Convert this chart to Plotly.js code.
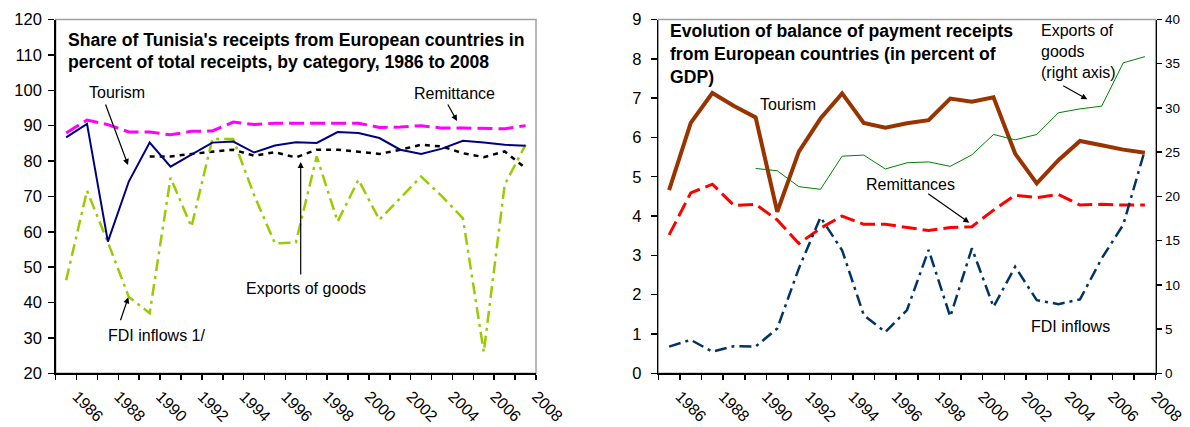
<!DOCTYPE html>
<html>
<head>
<meta charset="utf-8">
<script src="https://cdn.plot.ly/plotly-3.0.1.min.js"></script>
<style>
html,body{margin:0;padding:0;background:#fff;}
#chart{width:1190px;height:427px;}
</style>
</head>
<body>
<div id="chart"></div>
<script>
// ---- Data ----
const years = [1986,1987,1988,1989,1990,1991,1992,1993,1994,1995,1996,1997,1998,1999,2000,2001,2002,2003,2004,2005,2006,2007,2008];
const xTickYears = [1986,1988,1990,1992,1994,1996,1998,2000,2002,2004,2006,2008];

// Left chart: share of receipts from European countries (% of total)
const tourismShare  = [86.7,90.5,57.2,74.2,85.2,78.4,81.8,85.2,85.5,82.4,84.4,85.3,85.1,88.2,87.9,86.5,83.2,82.0,83.5,85.7,85.2,84.6,84.3];
const remitShare    = [87.9,91.6,90.3,88.2,88.2,87.4,88.4,88.5,91.0,90.3,90.7,90.7,90.7,90.7,90.7,89.5,89.6,90.0,89.3,89.3,89.1,89.1,90.0];
const exportsShare  = [null,null,null,null,81.3,81.3,82.0,82.7,83.2,81.5,82.5,81.0,83.2,83.2,82.7,82.0,83.2,84.6,84.1,82.2,81.1,82.7,78.0];
const fdiShare      = [46.3,71.6,57.0,41.6,37.0,75.3,61.4,86.2,86.2,70.4,56.7,57.0,81.3,62.9,74.7,63.4,69.5,75.6,70.0,63.8,26.0,73.3,84.6];

// Right chart: receipts from European countries (% of GDP)
const tourismGDP    = [4.66,6.37,7.13,6.80,6.51,4.11,5.64,6.48,7.12,6.37,6.25,6.36,6.44,6.99,6.91,7.02,5.59,4.83,5.42,5.91,5.80,5.69,5.61];
const remitGDP      = [3.52,4.59,4.81,4.27,4.30,3.90,3.30,3.69,4.00,3.79,3.79,3.71,3.63,3.71,3.73,4.15,4.53,4.47,4.55,4.28,4.30,4.28,4.28];
const fdiGDP        = [0.68,0.85,0.55,0.69,0.68,1.14,2.67,3.97,3.13,1.48,1.05,1.61,3.14,1.44,3.18,1.69,2.71,1.86,1.76,1.88,2.92,3.78,5.68];
const exportsGDP    = [null,null,null,null,23.16,22.9,21.1,20.8,24.55,24.67,23.1,23.8,23.9,23.4,24.7,27.0,26.4,27.0,29.45,29.9,30.2,35.1,35.8];

const leftTitle  = ["Share of Tunisia's receipts from European countries in", "percent of total receipts, by category, 1986 to 2008"];
const rightTitle = ["Evolution of balance of payment receipts", "from European countries (in percent of", "GDP)"];

// ---- Styling ----
const FONT = "Arial, 'Liberation Sans', sans-serif";
const W = 1190, H = 427;
const px = v => v / W;
const py = v => 1 - v / H;

const traces = [
  {x: years, y: remitShare, xaxis:'x', yaxis:'y', mode:'lines', line:{color:'#FF00FF', width:3, dash:'15px,6px'}},
  {x: years, y: exportsShare, xaxis:'x', yaxis:'y', mode:'lines', connectgaps:false, line:{color:'#000000', width:2.5, dash:'5px,5px'}},
  {x: years, y: fdiShare, xaxis:'x', yaxis:'y', mode:'lines', line:{color:'#99CC00', width:2.5, dash:'12px,5px,3px,5px'}},
  {x: years, y: tourismShare, xaxis:'x', yaxis:'y', mode:'lines', line:{color:'#000080', width:2}},

  {x: years, y: exportsGDP, xaxis:'x2', yaxis:'y3', mode:'lines', line:{color:'#008000', width:1}},
  {x: years, y: remitGDP, xaxis:'x2', yaxis:'y2', mode:'lines', line:{color:'#FF0000', width:3, dash:'15px,6px'}},
  {x: years, y: fdiGDP, xaxis:'x2', yaxis:'y2', mode:'lines', line:{color:'#003366', width:2.5, dash:'12px,5px,3px,5px'}},
  {x: years, y: tourismGDP, xaxis:'x2', yaxis:'y2', mode:'lines', line:{color:'#993300', width:4}}
];

const yDom = [py(373.3), py(19.5)];

function xAxis(domain, anchor){
  return {
    domain: domain, anchor: anchor,
    range: [1985.5, 2008.5],
    tickmode: 'array', tickvals: xTickYears, ticktext: xTickYears.map(String),
    ticks: '', tickangle: 45,
    ticklabelshift: 11, ticklabelstandoff: 6,
    tickfont: {family: FONT, size: 16, color: '#000'},
    showgrid: false, zeroline: false,
    showline: true, linecolor: '#000', linewidth: 1.5,
    minor: {tickmode:'linear', tick0: 1985.5, dtick: 1, ticks:'outside', ticklen: 5, tickwidth: 1.5, tickcolor:'#000', showgrid:false},
    fixedrange: true
  };
}

const layout = {
  width: W, height: H,
  margin: {l:0, r:0, t:0, b:0},
  paper_bgcolor: '#fff', plot_bgcolor: '#fff',
  showlegend: false,
  font: {family: FONT, color: '#000'},
  xaxis: xAxis([px(55.7), px(536)], 'y'),
  xaxis2: xAxis([px(658.3), px(1155.7)], 'y2'),
  yaxis: {
    domain: yDom, anchor: 'x', range: [20, 120], dtick: 10, tick0: 20,
    ticks: 'outside', ticklen: 6, tickwidth: 1.5, tickcolor: '#000',
    tickfont: {family: FONT, size: 16.5, color: '#000'},
    ticklabelstandoff: 3,
    showgrid: false, zeroline: false,
    showline: true, linecolor: '#000', linewidth: 1.5, fixedrange: true
  },
  yaxis2: {
    domain: yDom, anchor: 'x2', range: [0, 9], dtick: 1, tick0: 0,
    ticks: 'outside', ticklen: 6, tickwidth: 1.5, tickcolor: '#000',
    tickfont: {family: FONT, size: 16.5, color: '#000'},
    ticklabelstandoff: 6,
    showgrid: false, zeroline: false,
    showline: true, linecolor: '#000', linewidth: 1.5, fixedrange: true
  },
  yaxis3: {
    domain: yDom, anchor: 'x2', overlaying: 'y2', side: 'right',
    range: [0, 40], dtick: 5, tick0: 0,
    ticks: 'outside', ticklen: 5, tickwidth: 1.5, tickcolor: '#000',
    tickfont: {family: FONT, size: 13.5, color: '#000'},
    showgrid: false, zeroline: false,
    showline: true, linecolor: '#000', linewidth: 1.5, fixedrange: true
  },
  shapes: [
    {type:'rect', xref:'x domain', yref:'y domain', x0:0, x1:1, y0:0, y1:1, line:{color:'#A0A0A0', width:1.5}, layer:'below'},
    {type:'rect', xref:'x2 domain', yref:'y2 domain', x0:0, x1:1, y0:0, y1:1, line:{color:'#A0A0A0', width:1.5}, layer:'below'}
  ],
  annotations: []
};

const ann = layout.annotations;
function text(t, x, y, opts){
  ann.push(Object.assign({text: t, xref:'paper', yref:'paper', x: px(x), y: py(y), showarrow:false,
    xanchor:'center', yanchor:'middle', font:{family: FONT, size:16, color:'#000'}}, opts||{}));
}
function arrow(tailX, tailY, tipX, tipY){
  ann.push({text:'', xref:'paper', yref:'paper', x: px(tipX), y: py(tipY), ax: tailX - tipX, ay: tailY - tipY,
    showarrow:true, arrowhead:2, arrowsize:1, arrowwidth:1.2, arrowcolor:'#000', standoff:0});
}

// Titles (one annotation per line for exact line spacing)
const titleFont = {family: FONT, size: 17.6, color:'#000'};
const leftTops = [28.4, 49.9];
leftTitle.forEach((s, i) => text('<b>' + s + '</b>', 66, leftTops[i], {xanchor:'left', yanchor:'top', font: titleFont}));
const rightTops = [18.9, 42.1, 65.1];
rightTitle.forEach((s, i) => text('<b>' + s + '</b>', 668, rightTops[i], {xanchor:'left', yanchor:'top', font: titleFont}));

// Left chart labels
text('Tourism', 117, 92);
arrow(105, 103, 128, 165);
text('Remittance', 455, 93);
arrow(447, 103, 457, 121);
text('Exports of goods', 305.5, 288);
arrow(300.7, 276, 300.7, 162);
text('FDI inflows 1/', 156, 335);
arrow(120, 321.7, 128.3, 297.3);

// Right chart labels
text('Tourism', 787.5, 104);
text('Remittances', 910.5, 184);
arrow(926.7, 192.7, 969.3, 222.7);
text('Exports of<br>goods<br>(right axis)', 1039, 51, {xanchor:'left', align:'left'});
arrow(1061.7, 85, 1087.3, 99.3);
text('FDI inflows', 1070.8, 326.7);

Plotly.newPlot('chart', traces, layout, {displayModeBar:false, staticPlot:true});
</script>
</body>
</html>
